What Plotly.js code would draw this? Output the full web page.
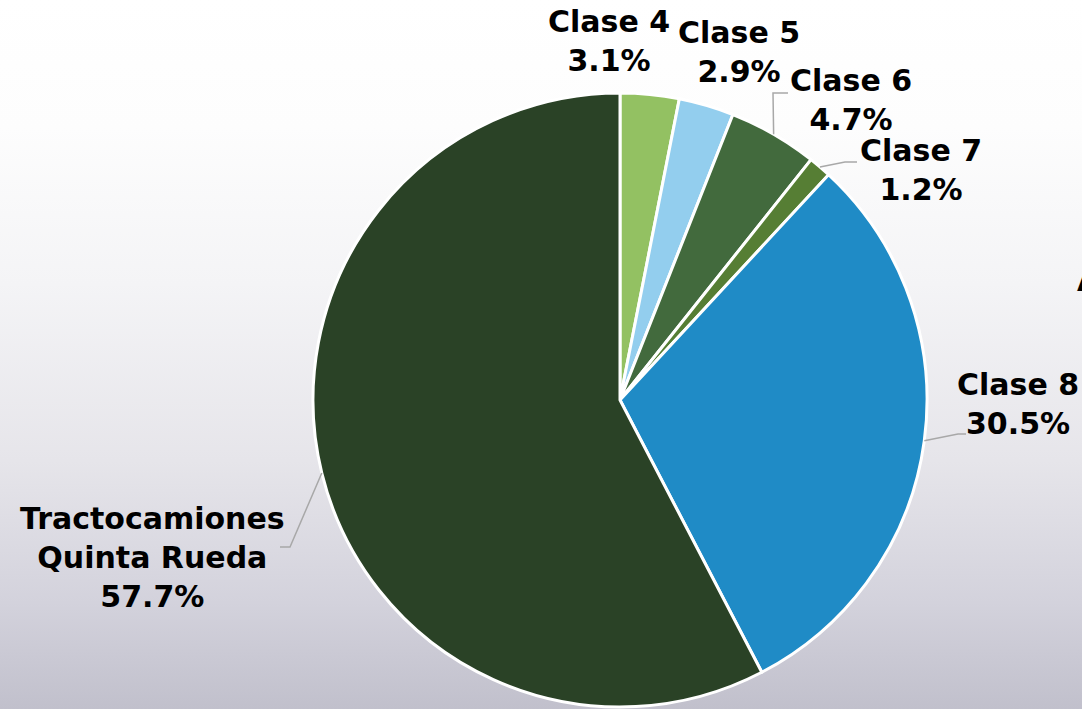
<!DOCTYPE html>
<html>
<head>
<meta charset="utf-8">
<script src="https://cdn.plot.ly/plotly-3.0.1.min.js"></script>
<style>
  html, body { margin: 0; padding: 0; width: 1082px; height: 709px; overflow: hidden; }
  body { background: linear-gradient(to bottom, #ffffff 0%, #fdfdfd 18%, #f4f4f6 40%, #e6e5ea 65%, #d3d2dc 85%, #c1c0cc 100%); }
  #chart { width: 1082px; height: 709px; }
</style>
</head>
<body>
<div id="chart"></div>
<script>
// ---- data ----
const categories = ["Clase 4", "Clase 5", "Clase 6", "Clase 7", "Clase 8", "Tractocamiones<br>Quinta Rueda"];
const shares = [3.1, 2.9, 4.7, 1.2, 30.5, 57.7];
const sliceColors = ["#93C162", "#93CEEE", "#426A3D", "#567E34", "#1F8BC6", "#2A4226"];

// ---- layout config (pixels) ----
const W = 1082, H = 709;
const CX = 620, CY = 400, R = 307;
const labelCenters = [[609, 41], [739, 52], [851, 100], [921, 170], [1018, 404], [152, 557]];
const leaderBends = [null, null, [[773, 93], [788, 93]], [[845, 162], [857, 162]], [[958, 434], [966, 434]], [[290, 547], [280, 547]]];

const px = x => x / W;
const py = y => 1 - y / H;

const total = shares.reduce((a, b) => a + b, 0);
let cum = 0;
const shapes = [];
const annotations = [];
const labelFont = { family: 'DejaVu Sans, sans-serif', size: 30, color: '#000000' };
shares.forEach((v, i) => {
  const mid = (cum + v / 2) / total * 2 * Math.PI; // clockwise from 12 o'clock
  cum += v;
  const ex = CX + R * Math.sin(mid);
  const ey = CY - R * Math.cos(mid);
  if (leaderBends[i]) {
    let d = `M${px(ex)},${py(ey)}`;
    leaderBends[i].forEach(p => { d += ` L${px(p[0])},${py(p[1])}`; });
    shapes.push({ type: 'path', xref: 'paper', yref: 'paper', path: d,
      line: { color: '#a8a8a8', width: 1.5 } });
  }
  annotations.push({
    xref: 'paper', yref: 'paper',
    x: px(labelCenters[i][0]), y: py(labelCenters[i][1]),
    xanchor: 'center', yanchor: 'middle', showarrow: false,
    text: `<b>${categories[i]}<br>${v.toFixed(1)}%</b>`,
    font: labelFont,
    align: 'center'
  });
});
// text partly outside the right edge, as in the original frame
annotations.push({
  xref: 'paper', yref: 'paper', x: px(1075), y: py(280),
  xanchor: 'left', yanchor: 'middle', showarrow: false,
  text: '<b>A</b>', font: labelFont
});

const trace = {
  type: 'pie',
  labels: categories,
  values: shares,
  sort: false,
  direction: 'clockwise',
  rotation: 0,
  textinfo: 'none',
  hoverinfo: 'label+percent',
  marker: { colors: sliceColors, line: { color: '#ffffff', width: 3 } },
  domain: { x: [px(CX - R), px(CX + R)], y: [py(CY + R), py(CY - R)] },
  showlegend: false
};

const layout = {
  width: W, height: H,
  margin: { l: 0, r: 0, t: 0, b: 0 },
  paper_bgcolor: 'rgba(0,0,0,0)',
  plot_bgcolor: 'rgba(0,0,0,0)',
  showlegend: false,
  shapes: shapes,
  annotations: annotations
};

Plotly.newPlot('chart', [trace], layout, { displayModeBar: false, staticPlot: true });
</script>
</body>
</html>
